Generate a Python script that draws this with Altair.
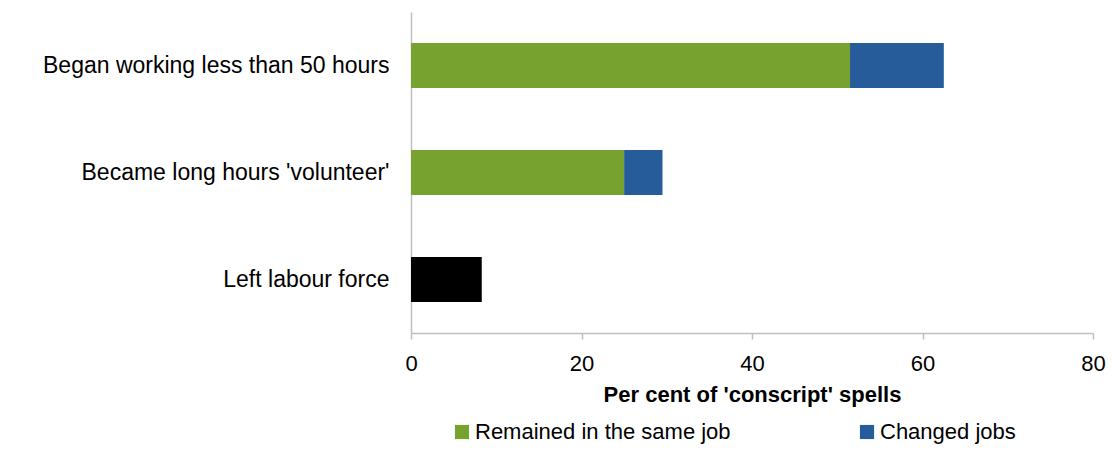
import altair as alt
import pandas as pd

categories = ["Began working less than 50 hours", "Became long hours 'volunteer'", "Left labour force"]
remained = [51.5, 25.0, None]
changed = [11.0, 4.5, None]
left_force = [None, None, 8.3]
series_names = ["Remained in the same job", "Changed jobs"]
colors = ["#78A22F", "#265C9A"]

rows = []
for c, r, ch in zip(categories, remained, changed):
    if r is not None:
        rows.append({"cat": c, "series": series_names[0], "value": r, "ord": 0})
    if ch is not None:
        rows.append({"cat": c, "series": series_names[1], "value": ch, "ord": 1})
df = pd.DataFrame(rows)
df_left = pd.DataFrame([{"cat": c, "value": v} for c, v in zip(categories, left_force) if v is not None])

FONT = "Liberation Sans"
FS = 23

y_enc = alt.Y("cat:N", sort=categories, title=None,
              scale=alt.Scale(domain=categories, paddingInner=0.58, paddingOuter=0.29),
              axis=alt.Axis(labelFontSize=FS, labelColor="#000", labelFont=FONT, labelPadding=22,
                            ticks=False, domainColor="#bfbfbf", domainWidth=1.5, labelLimit=600))
x_scale = alt.Scale(domain=[0, 80], nice=False)
x_axis = alt.Axis(values=[0, 20, 40, 60, 80], grid=False, labelFontSize=22, labelColor="#000",
                  labelFont=FONT, tickColor="#bfbfbf", tickSize=6, domainColor="#bfbfbf",
                  domainWidth=1.5, tickWidth=1.5, labelPadding=14, labelFlush=False,
                  title="Per cent of 'conscript' spells",
                  titleFontSize=22, titleFont=FONT, titleFontWeight="bold", titleColor="#000", titlePadding=10)

bars = alt.Chart(df).mark_bar().encode(
    y=y_enc,
    x=alt.X("value:Q", scale=x_scale, axis=x_axis, stack="zero"),
    color=alt.Color("series:N", scale=alt.Scale(domain=series_names, range=colors),
                    legend=alt.Legend(title=None, orient="none", direction="horizontal",
                                      legendX=40, legendY=409, symbolType="square", symbolSize=200,
                                      symbolStrokeWidth=0, labelFontSize=22, labelFont=FONT,
                                      labelColor="#000", columnPadding=125, labelOffset=2,
                                      labelLimit=600)),
    order=alt.Order("ord:Q"),
)

black = alt.Chart(df_left).mark_bar(color="#000000").encode(
    y=alt.Y("cat:N", sort=categories),
    x=alt.X("value:Q", scale=x_scale),
)

chart = alt.layer(bars, black).properties(
    width=682, height=321,
    autosize=alt.AutoSizeParams(type="none"),
    padding={"left": 403, "top": 4, "right": 14, "bottom": 111},
).configure(font=FONT, background="white").configure_view(stroke=None)

chart.save("out.html", embed_options={"renderer": "svg", "actions": False})
